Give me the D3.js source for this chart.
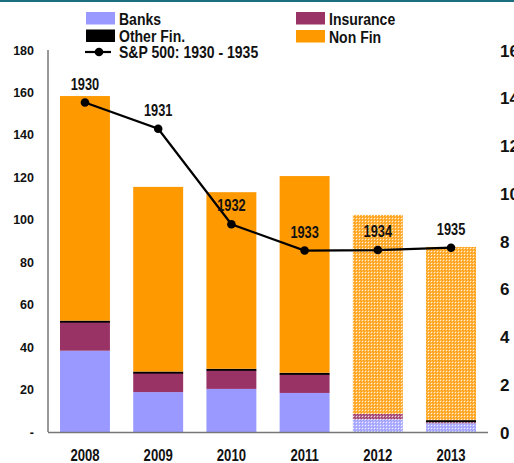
<!DOCTYPE html>
<html>
<head>
<meta charset="utf-8">
<script src="https://cdn.jsdelivr.net/npm/d3@7"></script>
<style>
  html, body { margin: 0; padding: 0; background: #fff; }
  svg { display: block; font-family: "Liberation Sans", Arial, sans-serif; font-weight: bold; }
</style>
</head>
<body>
<svg id="chart" width="514" height="463"></svg>
<script>
// ---- data ----
const years = ["2008", "2009", "2010", "2011", "2012", "2013"];
const banks = [38.3, 18.8, 20.3, 18.4, 6.0, 4.1];
const insurance = [13.5, 9.0, 8.8, 8.8, 2.6, 0.8];
const otherFin = [0.7, 0.7, 0.7, 0.7, 0, 0.7];
const nonFin = [105.8, 87.0, 83.2, 92.7, 93.7, 81.6];
const projected = [false, false, false, false, true, true];
const spYears = ["1930", "1931", "1932", "1933", "1934", "1935"];
const sp500 = [13.8, 12.7, 8.7, 7.6, 7.62, 7.72];
const leftTicks = [0, 20, 40, 60, 80, 100, 120, 140, 160, 180];
const rightTicks = [0, 2, 4, 6, 8, 10, 12, 14, 16];
const seriesNames = ["Banks", "Insurance", "Other Fin.", "Non Fin"];
const seriesColors = ["#9999FF", "#993366", "#000000", "#FF9900"];
const lineName = "S&P 500: 1930 - 1935";

// ---- setup ----
const svg = d3.select("#chart");
const x = d3.scaleBand().domain(years).range([48, 488]).paddingInner(0.318).paddingOuter(0.164);
const y = d3.scaleLinear().domain([0, 180]).range([432, 50]);
const y2 = d3.scaleLinear().domain([0, 16]).range([432, 50]);

// top border line
svg.append("rect").attr("x", 0).attr("y", 0).attr("width", 514).attr("height", 2).attr("fill", "#1B6F7F");

// patterns for projected bars
const defs = svg.append("defs");
seriesColors.forEach((c, i) => {
  const p = defs.append("pattern").attr("id", "pat" + i)
    .attr("patternUnits", "userSpaceOnUse").attr("width", 3).attr("height", 3);
  p.append("rect").attr("width", 3).attr("height", 3).attr("fill", "#fff");
  p.append("rect").attr("width", 3).attr("height", 3).attr("fill", c).attr("opacity", 0.72);
  p.append("rect").attr("x", 0).attr("y", 0).attr("width", 1).attr("height", 1).attr("fill", c);
  p.append("rect").attr("x", 1).attr("y", 1).attr("width", 1).attr("height", 1).attr("fill", c).attr("opacity", 0.9);
  p.append("rect").attr("x", 2).attr("y", 2).attr("width", 1).attr("height", 1).attr("fill", "#fff").attr("opacity", 0.8);
});

// stacked data
const table = years.map((yr, i) => ({
  year: yr, proj: projected[i],
  "Banks": banks[i], "Insurance": insurance[i], "Other Fin.": otherFin[i], "Non Fin": nonFin[i]
}));
const stack = d3.stack().keys(seriesNames)(table);

const gBars = svg.append("g");
stack.forEach((layer, si) => {
  gBars.selectAll(null).data(layer).enter().append("rect")
    .attr("x", d => x(d.data.year))
    .attr("width", x.bandwidth())
    .attr("y", d => y(d[1]))
    .attr("height", d => Math.max(0, y(d[0]) - y(d[1])) + (seriesNames[si] === "Other Fin." && d[1] > d[0] ? 0.6 : 0))
    .attr("fill", d => d.data.proj && seriesNames[si] !== "Other Fin." ? `url(#pat${si})` : seriesColors[si]);
});

// axes lines
svg.append("line").attr("x1", 48).attr("x2", 48).attr("y1", y(180)).attr("y2", y(0))
  .attr("stroke", "#333").attr("stroke-width", 1);
svg.append("line").attr("x1", 48).attr("x2", 488).attr("y1", y(0) + 0.5).attr("y2", y(0) + 0.5)
  .attr("stroke", "#777").attr("stroke-width", 1.5);

// left ticks
svg.append("g").selectAll("text").data(leftTicks).enter().append("text")
  .attr("x", 34).attr("y", d => y(d) + 4.5)
  .attr("text-anchor", "end").attr("font-size", 12.5).attr("fill", "#111")
  .text(d => d === 0 ? "-" : d);

// right ticks
svg.append("g").selectAll("text").data(rightTicks).enter().append("text")
  .attr("x", 500).attr("y", d => y2(d) + 6.5)
  .attr("text-anchor", "start").attr("font-size", 17).attr("fill", "#111")
  .text(d => d);

// helper for condensed text
function narrow(g, tx, ty, txt, size, anchor, sx) {
  return g.append("text")
    .attr("transform", `translate(${tx},${ty}) scale(${sx},1)`)
    .attr("text-anchor", anchor).attr("font-size", size).attr("fill", "#111")
    .text(txt);
}

// x labels
const gx = svg.append("g");
years.forEach(yr => narrow(gx, x(yr) + x.bandwidth() / 2, 460.5, yr, 16, "middle", 0.82));

// S&P line
const cx = (d, i) => x(years[i]) + x.bandwidth() / 2;
const line = d3.line().x((d, i) => cx(d, i)).y(d => y2(d));
svg.append("path").datum(sp500).attr("d", line)
  .attr("fill", "none").attr("stroke", "#000").attr("stroke-width", 2.2);
svg.append("g").selectAll("circle").data(sp500).enter().append("circle")
  .attr("cx", cx).attr("cy", d => y2(d)).attr("r", 4.3).attr("fill", "#000");
const gl = svg.append("g");
sp500.forEach((v, i) => narrow(gl, cx(v, i), y2(v) - 13, spYears[i], 16, "middle", 0.8));

// legend
const lg = svg.append("g");
const legendItems = [
  { name: "Banks", color: seriesColors[0], x: 86, y: 12 },
  { name: "Other Fin.", color: seriesColors[2], x: 86, y: 29.5 },
  { name: "Insurance", color: seriesColors[1], x: 296, y: 12 },
  { name: "Non Fin", color: seriesColors[3], x: 296, y: 30 }
];
legendItems.forEach(it => {
  lg.append("rect").attr("x", it.x).attr("y", it.y).attr("width", 29).attr("height", 12.5).attr("fill", it.color);
  narrow(lg, it.x + 33, it.y + 12.5, it.name, 16.5, "start", 0.85);
});
lg.append("line").attr("x1", 85).attr("x2", 111).attr("y1", 52).attr("y2", 52).attr("stroke", "#000").attr("stroke-width", 2.2);
lg.append("circle").attr("cx", 99).attr("cy", 52).attr("r", 4.3).attr("fill", "#000");
narrow(lg, 119, 58, lineName, 16.5, "start", 0.85);
</script>
</body>
</html>
